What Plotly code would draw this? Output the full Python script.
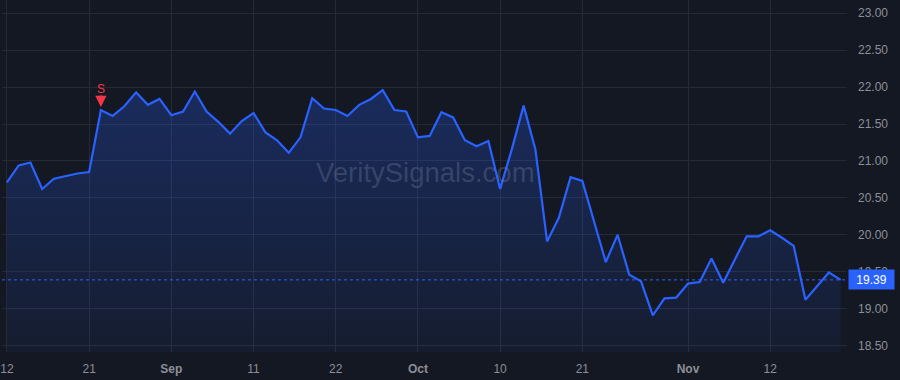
import pandas as pd
import plotly.graph_objects as go

# ---- data ----
trading_days = [d.strftime("%Y-%m-%d") for d in pd.bdate_range("2025-08-12", "2025-11-20")
                if d.strftime("%Y-%m-%d") != "2025-09-01"]

prices = [20.71, 20.94, 20.98, 20.62, 20.76, 20.80, 20.83, 20.85, 21.69, 21.61,
          21.74, 21.93, 21.76, 21.84, 21.62, 21.67, 21.94, 21.67, 21.53, 21.37,
          21.54, 21.65, 21.39, 21.28, 21.11, 21.32, 21.85, 21.71, 21.69, 21.61,
          21.76, 21.84, 21.96, 21.69, 21.67, 21.32, 21.34, 21.66, 21.59, 21.28,
          21.20, 21.27, 20.62, 21.16, 21.75, 21.16, 19.91, 20.23, 20.78, 20.73,
          20.19, 19.63, 20.00, 19.46, 19.37, 18.91, 19.14, 19.15, 19.34, 19.36,
          19.68, 19.35, 19.67, 19.98, 19.98, 20.06, 19.96, 19.85, 19.12, 19.30,
          19.49, 19.39]

tick_dates = ["2025-08-12", "2025-08-21", "2025-09-02", "2025-09-11", "2025-09-22",
              "2025-10-01", "2025-10-10", "2025-10-21", "2025-11-03", "2025-11-12"]
tick_labels = ["12", "21", "<b>Sep</b>", "11", "22", "<b>Oct</b>", "10", "21", "<b>Nov</b>", "12"]

signal_date = "2025-08-22"
signal_label = "S"
watermark = "VeritySignals.com"

BG = "#141822"
GRID = "#252a36"
BLUE = "#2962FF"
RED = "#F23645"
TXT = "#8b8f99"

fig = go.Figure()
fig.add_trace(go.Scatter(
    x=trading_days, y=prices, mode="lines",
    line=dict(color=BLUE, width=2.2),
    fill="tozeroy",
    fillgradient=dict(type="vertical", start=18.4, stop=22.0,
                      colorscale=[[0, "rgba(41,98,255,0.06)"], [1, "rgba(41,98,255,0.27)"]]),
    hoverinfo="skip", showlegend=False,
))

last = prices[-1]
sig_val = prices[trading_days.index(signal_date)]

fig.add_shape(type="line", xref="paper", x0=0, x1=1, yref="y", y0=last, y1=last,
              line=dict(color=BLUE, width=1, dash="dot"))

# signal arrow (no text) + label
fig.add_annotation(x=signal_date, y=sig_val, text="", showarrow=True,
                   ax=0, ay=-16, arrowhead=2, arrowsize=0.75, arrowwidth=3, standoff=3,
                   arrowcolor=RED)
fig.add_annotation(x=signal_date, y=sig_val, text=signal_label, showarrow=False,
                   yshift=21, font=dict(color=RED, size=12))

fig.add_annotation(xref="paper", x=1, xanchor="left", xshift=1, yref="y", y=last,
                   text=f"{last:.2f}", showarrow=False, bgcolor=BLUE,
                   font=dict(color="white", size=12), width=41, height=15, borderpad=2)

fig.add_annotation(xref="paper", yref="paper", x=0.5015, y=0.51, text=watermark,
                   showarrow=False, font=dict(size=27.5, color="rgba(150,160,185,0.25)",
                                              family="Liberation Sans, Arial, sans-serif"))

fig.update_layout(
    width=900, height=380,
    margin=dict(l=0, r=53, t=0, b=28),
    paper_bgcolor=BG, plot_bgcolor=BG,
    font=dict(family="Liberation Sans, Arial, sans-serif", size=12, color=TXT),
    xaxis=dict(type="category", range=[-0.42, 71.54], tickvals=tick_dates, ticktext=tick_labels,
               showgrid=True, gridcolor=GRID, gridwidth=1, zeroline=False, showline=False,
               ticks="", ticklabelstandoff=8, tickfont=dict(color=TXT, size=12)),
    yaxis=dict(side="right", range=[18.413, 23.18], tick0=18.5, dtick=0.5, tickformat=".2f",
               showgrid=True, gridcolor=GRID, gridwidth=1, zeroline=False, showline=False,
               ticks="", ticklabelstandoff=10, tickfont=dict(color=TXT, size=12)),
)

fig.write_html("out.html")
